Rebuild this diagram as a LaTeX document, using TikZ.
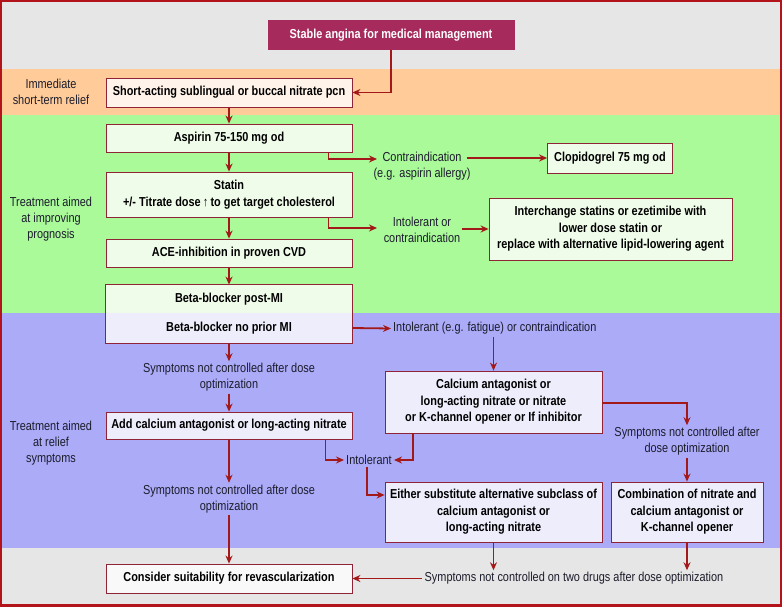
\documentclass[tikz,border=0pt]{standalone}
\usepackage{fontspec}
\setmainfont{Liberation Sans}[FakeStretch=0.84]
\usetikzlibrary{arrows.meta,calc}
\definecolor{framec}{HTML}{B3141C}
\definecolor{arrc}{HTML}{A31919}
\definecolor{bordc}{HTML}{8E2436}
\definecolor{bgray}{HTML}{E6E6E6}
\definecolor{borange}{HTML}{FFCC99}
\definecolor{bgreen}{HTML}{AAFA9A}
\definecolor{blav}{HTML}{ABABF8}
\definecolor{fgreen}{HTML}{F0FCEA}
\definecolor{forange}{HTML}{FFF3EA}
\definecolor{flav}{HTML}{EDEDFC}
\definecolor{fwhite}{HTML}{F9F9F9}
\definecolor{ftitle}{HTML}{A62A5B}
\definecolor{txtc}{HTML}{1C1C2C}
\begin{document}
\begin{tikzpicture}[x=1pt,y=-1pt,
  font=\fontsize{13}{16}\selectfont,
  mybox/.style={draw=bordc, line width=0.8pt, font=\fontsize{13}{16.5}\selectfont\bfseries, align=center, inner sep=2pt, text=black},
  mylbl/.style={align=center, inner sep=2pt, text=txtc},
  myarr/.style={draw=arrc, line width=1.8pt, -{Stealth[length=8pt,width=7pt]}}]
\useasboundingbox (0,0) rectangle (783,607);
% bands
\fill[bgray] (1,1) rectangle (781,69);
\fill[borange] (1,69) rectangle (781,115);
\fill[bgreen] (1,115) rectangle (781,313);
\fill[blav] (1,313) rectangle (781,548);
\fill[bgray] (1,548) rectangle (781,605);
\draw[framec, line width=2.5pt] (1.2,1.2) rectangle (781,605.5);

% left labels
\node[mylbl] (lab1) at (51,92) {Immediate\\short-term relief};
\node[mylbl] (lab2) at (51,219) {Treatment aimed\\at improving\\prognosis};
\node[mylbl] (lab3) at (51,443) {Treatment aimed\\at relief\\symptoms};

% main column boxes
\node[mybox, fill=ftitle, draw=ftitle, text=white, minimum width=246pt, minimum height=29pt] (title) at (391,35) {Stable angina for medical management};
\node[mybox, fill=forange, minimum width=246pt, minimum height=29pt] (sa) at (229,92.5) {Short-acting sublingual or buccal nitrate pcn};
\node[mybox, fill=fgreen, minimum width=246pt, minimum height=28pt] (asp) at (229,138) {Aspirin 75-150 mg od};
\node[mybox, fill=fgreen, minimum width=246pt, minimum height=45pt] (statin) at (229,194.5) {Statin\\+/- Titrate dose\,{\fontspec{Liberation Sans}[FakeStretch=0.5]\normalfont↑}\,to get target cholesterol};
\node[mybox, fill=fgreen, minimum width=246pt, minimum height=28pt] (ace) at (229,253) {ACE-inhibition in proven CVD};
\node[mybox, draw=none, fill=fgreen, minimum width=246pt, minimum height=28pt] (betaA) at (229,299) {Beta-blocker post-MI};
\node[mybox, draw=none, fill=flav, minimum width=246pt, minimum height=30pt] (betaB) at (229,328) {Beta-blocker no prior MI};
\draw[bordc, line width=0.8pt] (betaA.north west) rectangle (betaB.south east);
\node[mybox, fill=flav, minimum width=246pt, minimum height=27pt] (add) at (229,425.5) {Add calcium antagonist or long-acting nitrate};
\node[mybox, fill=fwhite, minimum width=246pt, minimum height=29pt] (cons) at (229,578.5) {Consider suitability for revascularization};

% right boxes
\node[mybox, fill=fgreen, minimum width=125pt, minimum height=30pt] (clop) at (610,158) {Clopidogrel 75 mg od};
\node[mybox, fill=fgreen, minimum width=243pt, minimum height=62pt] (inter) at (610.5,229) {Interchange statins or ezetimibe with\\lower dose statin or\\replace with alternative lipid-lowering agent};
\node[mybox, fill=flav, minimum width=217pt, minimum height=62pt] (calc) at (493.5,402) {Calcium antagonist or\\long-acting nitrate or nitrate\\or K-channel opener or If inhibitor};
\node[mybox, fill=flav, minimum width=217pt, minimum height=60pt] (either) at (493.5,512) {Either substitute alternative subclass of\\calcium antagonist or\\long-acting nitrate};
\node[mybox, fill=flav, minimum width=152pt, minimum height=60pt] (comb) at (687,512) {Combination of nitrate and\\calcium antagonist or\\K-channel opener};

% text labels
\node[mylbl] (contra) at (422,166) {Contraindication\\(e.g. aspirin allergy)};
\node[mylbl] (intol1) at (422,229.5) {Intolerant or\\contraindication};
\node[mylbl, anchor=west] (intol2) at (391,328.5) {Intolerant (e.g. fatigue) or contraindication};
\node[mylbl] (sym1) at (229,377.5) {Symptoms not controlled after dose\\optimization};
\node[mylbl] (sym2) at (687,441.5) {Symptoms not controlled after\\dose optimization};
\node[mylbl] (intol3) at (369,460) {Intolerant};
\node[mylbl] (sym3) at (229,499) {Symptoms not controlled after dose\\optimization};
\node[mylbl] (sym4) at (574,578.5) {Symptoms not controlled on two drugs after dose optimization};

\coordinate (contraIn) at (377,159);
\coordinate (contraOut) at (467,158);
\coordinate (intol1In) at (377,228);
\coordinate (intol1Out) at (462,229);

% connectors
\draw[myarr] (title.south) |- (sa.east);
\draw[myarr] (sa.south) -- (asp.north);
\draw[myarr] (asp.south) -- (statin.north);
\draw[myarr] (statin.south) -- (ace.north);
\draw[myarr] (ace.south) -- (betaA.north);
\draw[myarr] (betaB.south) -- (sym1.north);
\draw[myarr] (sym1.south) -- (add.north);
\draw[myarr] (add.south) -- (sym3.north);
\draw[myarr] (sym3.south) -- (cons.north);

\draw[myarr] ([xshift=-24pt]asp.south east) |- (contraIn);
\draw[myarr] (contraOut) -- (clop.west);
\draw[myarr] ([xshift=-24pt]statin.south east) |- (intol1In);
\draw[myarr] (intol1Out) -- (inter.west);

\draw[myarr] (betaB.east) -- (intol2.west);
\draw[myarr] (intol2.south -| calc.north) -- (calc.north);
\draw[myarr] ([yshift=-1pt]calc.east) -| (sym2.north);
\draw[myarr] (sym2.south) -- (comb.north);

\draw[myarr] ([xshift=-27pt]add.south east) |- (intol3.west);
\draw[myarr] ([xshift=-80.5pt]calc.south) |- (intol3.east);
\draw[myarr] ([xshift=-2pt]intol3.south) |- ([yshift=17pt]either.west);

\draw[myarr] (either.south) -- (either.south |- sym4.north);
\draw[myarr] (comb.south) -- (comb.south |- sym4.north);
\draw[myarr] (sym4.west) -- (cons.east);
\end{tikzpicture}
\end{document}
